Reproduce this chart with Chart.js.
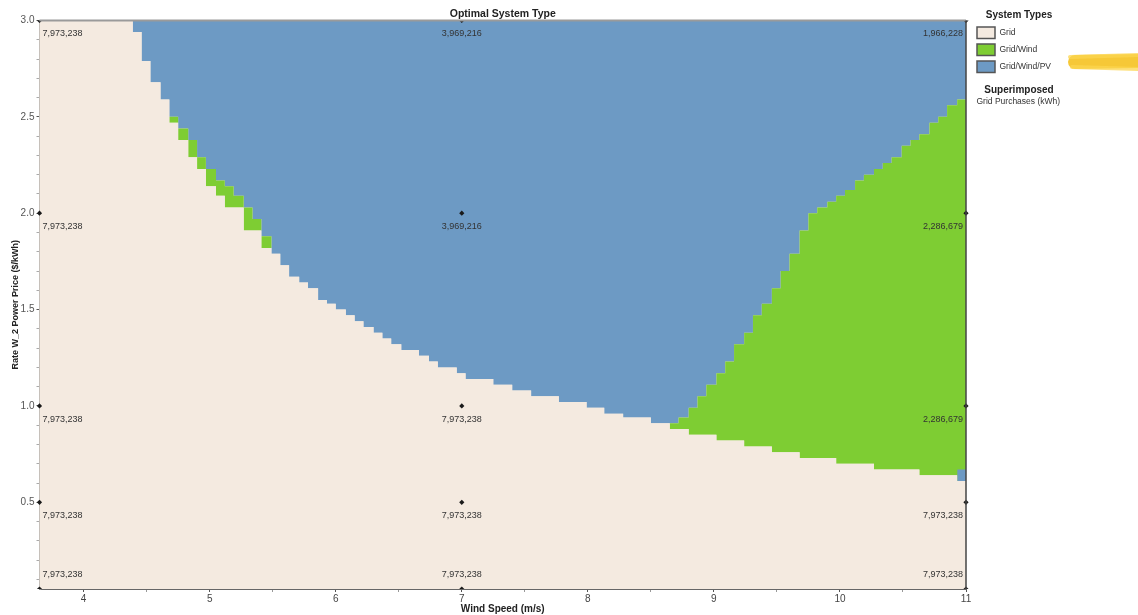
<!DOCTYPE html>
<html>
<head>
<meta charset="utf-8">
<script src="https://cdn.jsdelivr.net/npm/chart.js@4.4.1/dist/chart.umd.min.js"></script>
<style>
  html, body { margin: 0; padding: 0; background: #fff; }
  canvas { display: block; }
</style>
</head>
<body>
<canvas id="chart" width="1138" height="615"></canvas>
<script>
const systemTypes = ['Grid', 'Grid/Wind', 'Grid/Wind/PV'];
const typeColors = ['#f4eae0', '#7ecd33', '#6d9ac4'];

// top of the Grid region, [wind speed, power price] at each step
const gridEdge = [
  [3.65, 3.00], [4.39, 2.94], [4.46, 2.79], [4.53, 2.68], [4.61, 2.59], [4.68, 2.47],
  [4.75, 2.38], [4.83, 2.29], [4.90, 2.23], [4.97, 2.14], [5.05, 2.09], [5.12, 2.03],
  [5.27, 1.91], [5.41, 1.82], [5.49, 1.79], [5.56, 1.73], [5.63, 1.67], [5.71, 1.64],
  [5.78, 1.61], [5.86, 1.55], [5.93, 1.53], [6.00, 1.50], [6.08, 1.47], [6.15, 1.44],
  [6.22, 1.41], [6.30, 1.38], [6.37, 1.35], [6.44, 1.32], [6.52, 1.29], [6.66, 1.26],
  [6.74, 1.23], [6.81, 1.20], [6.96, 1.17], [7.03, 1.14], [7.25, 1.11], [7.40, 1.08],
  [7.55, 1.05], [7.77, 1.02], [7.99, 0.99], [8.13, 0.96], [8.28, 0.94], [8.50, 0.91],
  [8.65, 0.88], [8.80, 0.85], [9.02, 0.82], [9.24, 0.79], [9.46, 0.76], [9.68, 0.73],
  [9.97, 0.70], [10.27, 0.67], [10.63, 0.64], [10.93, 0.61], [11.00, 0.61]
];

// bottom of the Grid/Wind/PV region (Grid/Wind lies between the two edges)
const pvEdge = [
  [3.65, 3.00], [4.39, 2.94], [4.46, 2.79], [4.53, 2.68], [4.61, 2.59], [4.68, 2.50],
  [4.75, 2.44], [4.83, 2.38], [4.90, 2.29], [4.97, 2.23], [5.05, 2.17], [5.12, 2.14],
  [5.19, 2.09], [5.27, 2.03], [5.34, 1.97], [5.41, 1.88], [5.49, 1.79], [5.56, 1.73],
  [5.63, 1.67], [5.71, 1.64], [5.78, 1.61], [5.86, 1.55], [5.93, 1.53], [6.00, 1.50],
  [6.08, 1.47], [6.15, 1.44], [6.22, 1.41], [6.30, 1.38], [6.37, 1.35], [6.44, 1.32],
  [6.52, 1.29], [6.66, 1.26], [6.74, 1.23], [6.81, 1.20], [6.96, 1.17], [7.03, 1.14],
  [7.25, 1.11], [7.40, 1.08], [7.55, 1.05], [7.77, 1.02], [7.99, 0.99], [8.13, 0.96],
  [8.28, 0.94], [8.50, 0.91], [8.72, 0.94], [8.80, 0.99], [8.87, 1.05], [8.94, 1.11],
  [9.02, 1.17], [9.09, 1.23], [9.16, 1.32], [9.24, 1.38], [9.31, 1.47], [9.38, 1.53],
  [9.46, 1.61], [9.53, 1.70], [9.60, 1.79], [9.68, 1.91], [9.75, 2.00], [9.82, 2.03],
  [9.90, 2.06], [9.97, 2.09], [10.04, 2.12], [10.12, 2.17], [10.19, 2.20], [10.27, 2.23],
  [10.34, 2.26], [10.41, 2.29], [10.49, 2.35], [10.56, 2.38], [10.63, 2.41], [10.71, 2.47],
  [10.78, 2.50], [10.85, 2.56], [10.93, 2.59], [11.00, 2.59]
];

// lone Grid/Wind/PV cell at the foot of the last column
const pvPatch = [[10.93, 0.67], [11.00, 0.67]];

// sensitivity cases and superimposed grid purchases (kWh)
const windCases = [3.65, 7, 11];
const priceCases = [3, 2, 1, 0.5, 0.05];
const gridPurchases = [
  [7973238, 3969216, 1966228],
  [7973238, 3969216, 2286679],
  [7973238, 7973238, 2286679],
  [7973238, 7973238, 7973238],
  [7973238, 7973238, 7973238]
];

const xTicks = [4, 5, 6, 7, 8, 9, 10, 11];
const yTicks = [0.5, 1.0, 1.5, 2.0, 2.5, 3.0];

const FONT = '"Liberation Sans", Arial, sans-serif';
const markerPoints = priceCases.flatMap(p => windCases.map(w => [w, p]));

const overlay = {
  id: 'overlay',
  beforeDatasetsDraw(chart) {
    const { ctx, chartArea: a } = chart;
    ctx.save();
    ctx.fillStyle = typeColors[0];
    ctx.fillRect(a.left, a.top, a.right - a.left, a.bottom - a.top);
    ctx.restore();
  },
  afterDatasetsDraw(chart) {
    const { ctx, scales } = chart;
    ctx.save();
    ctx.font = '9px ' + FONT;
    ctx.fillStyle = '#333';
    ctx.textBaseline = 'middle';
    priceCases.forEach((p, r) => {
      windCases.forEach((w, c) => {
        const x = scales.x.getPixelForValue(w);
        const y = scales.y.getPixelForValue(p);
        ctx.textAlign = c === 0 ? 'left' : c === 1 ? 'center' : 'right';
        const tx = c === 0 ? x + 3 : c === 1 ? x : x - 3;
        const ty = r === priceCases.length - 1 ? y - 14 : y + 13.5;
        ctx.fillText(gridPurchases[r][c].toLocaleString('en-US'), tx, ty);
      });
    });
    ctx.restore();
  },
  afterDraw(chart) {
    const { ctx, chartArea: a } = chart;
    ctx.save();
    // top and right frame
    ctx.strokeStyle = '#9a9a9a';
    ctx.lineWidth = 2;
    ctx.beginPath();
    ctx.moveTo(a.left, a.top);
    ctx.lineTo(a.right, a.top);
    ctx.stroke();
    ctx.strokeStyle = '#444';
    ctx.lineWidth = 1.5;
    ctx.beginPath();
    ctx.moveTo(a.right, a.top);
    ctx.lineTo(a.right, a.bottom);
    ctx.stroke();

    // titles
    ctx.fillStyle = '#222';
    ctx.textBaseline = 'middle';
    ctx.textAlign = 'center';
    ctx.font = 'bold 10.5px ' + FONT;
    ctx.fillText('Optimal System Type', (a.left + a.right) / 2, 14);
    ctx.font = 'bold 10px ' + FONT;
    ctx.fillText('Wind Speed (m/s)', (a.left + a.right) / 2, 609);
    ctx.save();
    ctx.translate(16, (a.top + a.bottom) / 2);
    ctx.rotate(-Math.PI / 2);
    ctx.font = 'bold 9px ' + FONT;
    ctx.fillText('Rate W_2 Power Price ($/kWh)', 0, 0);
    ctx.restore();

    // legend
    ctx.font = 'bold 10px ' + FONT;
    ctx.fillText('System Types', 1019, 15);
    ctx.textAlign = 'left';
    ctx.font = '8.5px ' + FONT;
    systemTypes.forEach((t, i) => {
      const y = 27 + i * 17;
      ctx.fillStyle = typeColors[i];
      ctx.fillRect(977, y, 18, 11.5);
      ctx.strokeStyle = '#555';
      ctx.lineWidth = 1.5;
      ctx.strokeRect(977, y, 18, 11.5);
      ctx.fillStyle = '#333';
      ctx.fillText(t, 999.5, y + 6);
    });
    ctx.fillStyle = '#222';
    ctx.textAlign = 'center';
    ctx.font = 'bold 10px ' + FONT;
    ctx.fillText('Superimposed', 1019, 90);
    ctx.textAlign = 'left';
    ctx.font = '8.5px ' + FONT;
    ctx.fillStyle = '#333';
    ctx.fillText('Grid Purchases (kWh)', 976.5, 102);

    // highlighter mark beside the legend
    ctx.lineCap = 'round';
    ctx.strokeStyle = 'rgba(245, 190, 20, 0.85)';
    ctx.lineWidth = 14;
    ctx.beginPath();
    ctx.moveTo(1075, 62);
    ctx.lineTo(1140, 61);
    ctx.stroke();
    ctx.strokeStyle = 'rgba(252, 214, 80, 0.75)';
    ctx.lineWidth = 4;
    ctx.beginPath();
    ctx.moveTo(1070, 57);
    ctx.lineTo(1140, 55);
    ctx.moveTo(1072, 67);
    ctx.lineTo(1140, 69);
    ctx.stroke();
    ctx.restore();
  }
};

const noLine = { borderColor: 'rgba(0,0,0,0)', borderWidth: 0, pointRadius: 0, stepped: true };

new Chart(document.getElementById('chart'), {
  type: 'line',
  data: {
    datasets: [
      { ...noLine, label: systemTypes[0], data: gridEdge, fill: 'start', backgroundColor: typeColors[0], order: 0 },
      { ...noLine, label: systemTypes[2], data: pvPatch, fill: 'start', backgroundColor: typeColors[2], order: 1 },
      { ...noLine, label: systemTypes[1], data: pvEdge, fill: 0, backgroundColor: typeColors[1], order: 2 },
      { ...noLine, label: systemTypes[2], data: pvEdge, fill: 'end', backgroundColor: typeColors[2], order: 3 },
      {
        label: 'Grid Purchases (kWh)', data: markerPoints, showLine: false, pointStyle: 'rectRot',
        pointRadius: 2.6, pointBackgroundColor: '#1a1a1a', pointBorderWidth: 0, order: -1,
        clip: { left: 5, right: 5, top: 0, bottom: 0 }
      }
    ]
  },
  options: {
    responsive: false,
    animation: false,
    devicePixelRatio: 1,
    layout: { padding: { left: 0, top: 20.5, right: 172, bottom: 0 } },
    plugins: { legend: { display: false }, tooltip: { enabled: false } },
    scales: {
      x: {
        type: 'linear', min: 3.65, max: 11,
        afterFit: s => { s.height = 26; },
        afterBuildTicks: s => {
          const t = [];
          xTicks.forEach(v => { t.push({ value: v }); if (v < 11) t.push({ value: v + 0.5 }); });
          s.ticks = t;
        },
        ticks: {
          autoSkip: false, maxRotation: 0, padding: 1, color: '#444',
          font: { size: 10, family: FONT },
          callback: v => xTicks.includes(v) ? String(v) : ''
        },
        grid: {
          drawOnChartArea: false, tickLength: 3,
          tickColor: c => xTicks.includes(c.tick.value) ? '#555' : '#999'
        },
        border: { color: '#666', width: 2 }
      },
      y: {
        min: 0.05, max: 3,
        afterFit: s => { s.width = 39.5; },
        afterBuildTicks: s => {
          const t = [];
          for (let i = 1; i <= 30; i++) t.push({ value: i / 10 });
          s.ticks = t;
        },
        ticks: {
          autoSkip: false, padding: 2, color: '#555',
          font: { size: 10, family: FONT },
          callback: v => yTicks.some(m => Math.abs(m - v) < 1e-6) ? v.toFixed(1) : ''
        },
        grid: {
          drawOnChartArea: false, tickLength: 3,
          tickColor: c => yTicks.some(m => Math.abs(m - c.tick.value) < 1e-6) ? '#555' : '#aaa'
        },
        border: { color: '#8a8a8a', width: 2 }
      }
    }
  },
  plugins: [overlay]
});
</script>
</body>
</html>
